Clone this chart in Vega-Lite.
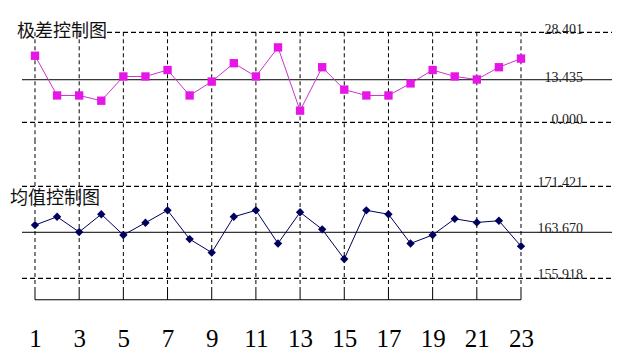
{
  "$schema": "https://vega.github.io/schema/vega-lite/v6.json",
  "padding": 0,
  "bounds": "flush",
  "spacing": 0,
  "background": "white",
  "config": {"view": {"stroke": null}},
  "datasets": {
    "range": [
      {"i": 1, "r": 21.0}, {"i": 2, "r": 8.47}, {"i": 3, "r": 8.47}, {"i": 4, "r": 6.81},
      {"i": 5, "r": 14.46}, {"i": 6, "r": 14.46}, {"i": 7, "r": 16.5}, {"i": 8, "r": 8.47},
      {"i": 9, "r": 12.85}, {"i": 10, "r": 18.64}, {"i": 11, "r": 14.46}, {"i": 12, "r": 23.64},
      {"i": 13, "r": 3.68}, {"i": 14, "r": 17.38}, {"i": 15, "r": 10.31}, {"i": 16, "r": 8.47},
      {"i": 17, "r": 8.47}, {"i": 18, "r": 12.27}, {"i": 19, "r": 16.5}, {"i": 20, "r": 14.46},
      {"i": 21, "r": 13.5}, {"i": 22, "r": 17.38}, {"i": 23, "r": 20.1}
    ],
    "mean": [
      {"i": 1, "m": 164.88}, {"i": 2, "m": 166.28}, {"i": 3, "m": 163.72}, {"i": 4, "m": 166.71},
      {"i": 5, "m": 163.21}, {"i": 6, "m": 165.28}, {"i": 7, "m": 167.37}, {"i": 8, "m": 162.52},
      {"i": 9, "m": 160.25}, {"i": 10, "m": 166.28}, {"i": 11, "m": 167.37}, {"i": 12, "m": 161.79},
      {"i": 13, "m": 167.04}, {"i": 14, "m": 164.17}, {"i": 15, "m": 159.17}, {"i": 16, "m": 167.37},
      {"i": 17, "m": 166.71}, {"i": 18, "m": 161.79}, {"i": 19, "m": 163.21}, {"i": 20, "m": 165.94},
      {"i": 21, "m": 165.33}, {"i": 22, "m": 165.61}, {"i": 23, "m": 161.33}
    ],
    "grid": [
      {"i": 1}, {"i": 3}, {"i": 5}, {"i": 7}, {"i": 9}, {"i": 11},
      {"i": 13}, {"i": 15}, {"i": 17}, {"i": 19}, {"i": 21}, {"i": 23}
    ],
    "rlimits": [
      {"v": 28.401, "label": "28.401"},
      {"v": 13.435, "label": "13.435"},
      {"v": 0, "label": "0.000"}
    ],
    "mlimits": [
      {"v": 171.421, "label": "171.421"},
      {"v": 163.67, "label": "163.670"},
      {"v": 155.918, "label": "155.918"}
    ]
  },
  "vconcat": [
    {
      "width": 625,
      "height": 140,
      "layer": [
        {
          "data": {"name": "grid"},
          "mark": {"type": "rule", "color": "black", "strokeWidth": 1, "strokeDash": [4, 3]},
          "encoding": {
            "x": {"field": "i", "type": "quantitative", "scale": {"domain": [-0.584, 27.708], "nice": false, "zero": false}, "axis": null},
            "y": {"datum": 28.401, "type": "quantitative", "scale": {"domain": [-5.585, 38.59], "nice": false, "zero": false}, "axis": null},
            "y2": {"datum": -5.585}
          }
        },
        {
          "data": {"name": "rlimits"},
          "mark": {"type": "rule", "color": "black", "strokeWidth": 1.2, "strokeDash": [5, 3]},
          "transform": [{"filter": "datum.v > 20"}],
          "encoding": {"x": {"datum": 4.26}, "x2": {"datum": 27.12}, "y": {"field": "v", "type": "quantitative"}}
        },
        {
          "data": {"name": "rlimits"},
          "mark": {"type": "rule", "color": "black", "strokeWidth": 1.2, "strokeDash": [5, 3]},
          "transform": [{"filter": "datum.v < 5"}],
          "encoding": {"x": {"datum": 0.412}, "x2": {"datum": 27.12}, "y": {"field": "v", "type": "quantitative"}}
        },
        {
          "data": {"name": "rlimits"},
          "mark": {"type": "rule", "color": "black", "strokeWidth": 1},
          "transform": [{"filter": "datum.v > 5 && datum.v < 20"}],
          "encoding": {"x": {"datum": 0.412}, "x2": {"datum": 27.12}, "y": {"field": "v", "type": "quantitative"}}
        },
        {
          "data": {"name": "range"},
          "mark": {"type": "line", "color": "#cc33cc", "strokeWidth": 1},
          "encoding": {"x": {"field": "i", "type": "quantitative"}, "y": {"field": "r", "type": "quantitative"}}
        },
        {
          "data": {"name": "range"},
          "mark": {"type": "point", "shape": "square", "filled": true, "color": "#e617e6", "size": 70, "opacity": 1},
          "encoding": {"x": {"field": "i", "type": "quantitative"}, "y": {"field": "r", "type": "quantitative"}}
        },
        {
          "data": {"name": "rlimits"},
          "mark": {"type": "text", "align": "right", "baseline": "middle", "dy": -2, "font": "Liberation Serif", "fontSize": 14, "color": "#222"},
          "encoding": {"x": {"datum": 25.81}, "y": {"field": "v", "type": "quantitative"}, "text": {"field": "label"}}
        },
        {
          "data": {"values": [{"t": "极差控制图"}]},
          "mark": {"type": "text", "align": "left", "baseline": "middle", "font": "Noto Sans CJK SC", "fontSize": 18, "color": "#111"},
          "encoding": {"x": {"datum": 0.186}, "y": {"datum": 28.6}, "text": {"field": "t"}}
        }
      ]
    },
    {
      "width": 625,
      "height": 160,
      "layer": [
        {
          "data": {"name": "grid"},
          "mark": {"type": "rule", "color": "black", "strokeWidth": 1, "strokeDash": [4, 3]},
          "encoding": {
            "x": {"field": "i", "type": "quantitative", "scale": {"domain": [-0.584, 27.708], "nice": false, "zero": false},
              "axis": {"values": [1, 3, 5, 7, 9, 11, 13, 15, 17, 19, 21, 23], "domain": false, "ticks": false, "grid": false, "title": null,
                "labelFont": "Liberation Serif", "labelFontSize": 25, "labelColor": "black", "labelPadding": 26, "labelFlush": false, "labelOverlap": false}},
            "y": {"datum": 179.22, "type": "quantitative", "scale": {"domain": [152.26, 179.22], "nice": false, "zero": false}, "axis": null},
            "y2": {"datum": 154.28}
          }
        },
        {
          "data": {"name": "grid"},
          "mark": {"type": "rule", "color": "black", "strokeWidth": 1},
          "encoding": {"x": {"field": "i", "type": "quantitative"}, "y": {"datum": 154.28}, "y2": {"datum": 152.3}}
        },
        {
          "data": {"values": [{"a": 1, "b": 23}]},
          "mark": {"type": "rule", "color": "black", "strokeWidth": 1.2},
          "encoding": {"x": {"field": "a", "type": "quantitative"}, "x2": {"field": "b"}, "y": {"datum": 152.3}}
        },
        {
          "data": {"name": "mlimits"},
          "mark": {"type": "rule", "color": "black", "strokeWidth": 1.2, "strokeDash": [5, 3]},
          "transform": [{"filter": "datum.v != 163.67"}],
          "encoding": {"x": {"datum": 0.412}, "x2": {"datum": 27.12}, "y": {"field": "v", "type": "quantitative"}}
        },
        {
          "data": {"name": "mlimits"},
          "mark": {"type": "rule", "color": "black", "strokeWidth": 1},
          "transform": [{"filter": "datum.v == 163.67"}],
          "encoding": {"x": {"datum": 0.412}, "x2": {"datum": 27.12}, "y": {"field": "v", "type": "quantitative"}}
        },
        {
          "data": {"name": "mean"},
          "mark": {"type": "line", "color": "#00005e", "strokeWidth": 1},
          "encoding": {"x": {"field": "i", "type": "quantitative"}, "y": {"field": "m", "type": "quantitative"}}
        },
        {
          "data": {"name": "mean"},
          "mark": {"type": "point", "shape": "diamond", "filled": true, "color": "#00005e", "size": 70, "opacity": 1},
          "encoding": {"x": {"field": "i", "type": "quantitative"}, "y": {"field": "m", "type": "quantitative"}}
        },
        {
          "data": {"name": "mlimits"},
          "mark": {"type": "text", "align": "right", "baseline": "middle", "dy": -3, "font": "Liberation Serif", "fontSize": 14, "color": "#222"},
          "encoding": {"x": {"datum": 25.81}, "y": {"field": "v", "type": "quantitative"}, "text": {"field": "label"}}
        },
        {
          "data": {"values": [{"t": "均值控制图"}]},
          "mark": {"type": "text", "align": "left", "baseline": "middle", "font": "Noto Sans CJK SC", "fontSize": 18, "color": "#111"},
          "encoding": {"x": {"datum": -0.131}, "y": {"datum": 169.28}, "text": {"field": "t"}}
        }
      ]
    }
  ]
}
